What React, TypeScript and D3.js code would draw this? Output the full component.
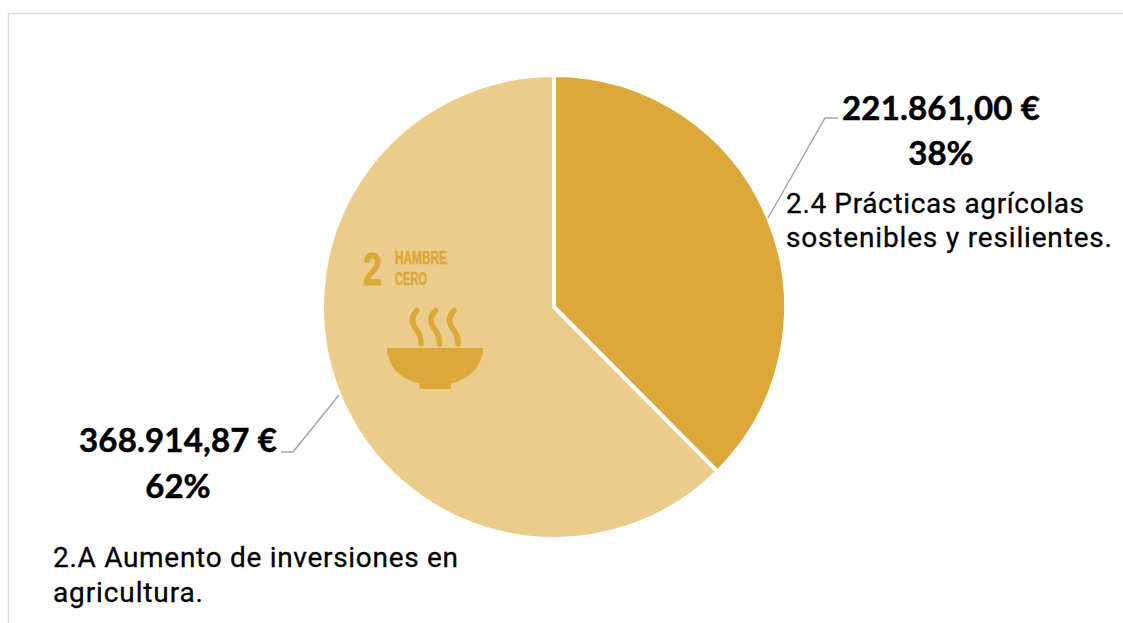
import React from "react";
import * as d3 from "d3";

const categories = ["2.4 Prácticas agrícolas sostenibles y resilientes.", "2.A Aumento de inversiones en agricultura."];
const amounts = [221861.0, 368914.87];
const amountLabels = ["221.861,00 €", "368.914,87 €"];
const percentLabels = ["38%", "62%"];
const colors = ["#dca83a", "#eccc8b"];

const cx = 554;
const cy = 307;
const radius = 232;

const boldFont = "Lato, 'Open Sans', sans-serif";
const textFont = "Roboto, 'Noto Sans', sans-serif";
const narrowFont = "'Liberation Sans Narrow', 'Liberation Sans', sans-serif";

export default function App() {
  const pie = d3.pie<number>().sort(null).value((d) => d);
  const arc = d3.arc<d3.PieArcDatum<number>>().innerRadius(0).outerRadius(radius);
  const arcs = pie(amounts);
  const color = d3.scaleOrdinal<string, string>().domain(categories).range(colors);
  const leader = d3.line();

  return (
    <svg width={1123} height={623} style={{ position: "absolute", left: 0, top: 0, background: "#fff" }}>
      <path d="M8.5,623V13.5H1123" fill="none" stroke="#d9d9d9" strokeWidth={1.5} />
      <g transform={`translate(${cx},${cy})`}>
        {arcs.map((a, i) => (
          <path key={i} d={arc(a) ?? ""} fill={color(categories[i])} stroke="#fff" strokeWidth={4} strokeLinejoin="round" />
        ))}
      </g>

      {/* SDG 2 emblem */}
      <g fill="#dca83a" stroke="#dca83a" fontFamily={narrowFont} fontWeight={700}>
        <text x={363} y={285} strokeWidth={0.8} fontSize={47} textLength={19} lengthAdjust="spacingAndGlyphs">2</text>
        <text x={395} y={264} strokeWidth={0.5} fontSize={18} textLength={52} lengthAdjust="spacingAndGlyphs">HAMBRE</text>
        <text x={395} y={285} strokeWidth={0.5} fontSize={18} textLength={32} lengthAdjust="spacingAndGlyphs">CERO</text>
      </g>
      <path fill="#dca83a" d="M387,348H483C482.5,366 470,379 451,383.5V389H419.5V383.5C400,379 387.5,366 387,348Z" />
      <g fill="none" stroke="#dca83a" strokeWidth={5.5} strokeLinecap="round">
        {[0, 18.5, 37].map((dx) => (
          <path key={dx} transform={`translate(${dx},0)`} d="M417,310.5C410,318 412,324 416,329C420,334 421,338 421,344" />
        ))}
      </g>

      {/* leader lines */}
      <g fill="none" stroke="#a6a6a6" strokeWidth={1.5}>
        <path d={leader([[768, 218], [825, 118], [838, 118]]) ?? ""} />
        <path d={leader([[339, 395], [293, 452], [281, 452]]) ?? ""} />
      </g>

      {/* value labels */}
      <g fontFamily={boldFont} fontWeight={700} fontSize={33} fill="#000" stroke="#000" strokeWidth={0.5} textAnchor="middle">
        <text x={941} y={120} textLength={198}>{amountLabels[0]}</text>
        <text x={941} y={165}>{percentLabels[0]}</text>
        <text x={178} y={452} textLength={198}>{amountLabels[1]}</text>
        <text x={178} y={498}>{percentLabels[1]}</text>
      </g>

      {/* category labels */}
      <g fontFamily={textFont} fontWeight={400} fontSize={28} fill="#000" stroke="#000" strokeWidth={0.3}>
        <text x={786} y={213} textLength={298}>2.4 Prácticas agrícolas</text>
        <text x={786} y={247} textLength={326}>sostenibles y resilientes.</text>
        <text x={53} y={567} textLength={405}>2.A Aumento de inversiones en</text>
        <text x={53} y={602} textLength={150}>agricultura.</text>
      </g>
    </svg>
  );
}
